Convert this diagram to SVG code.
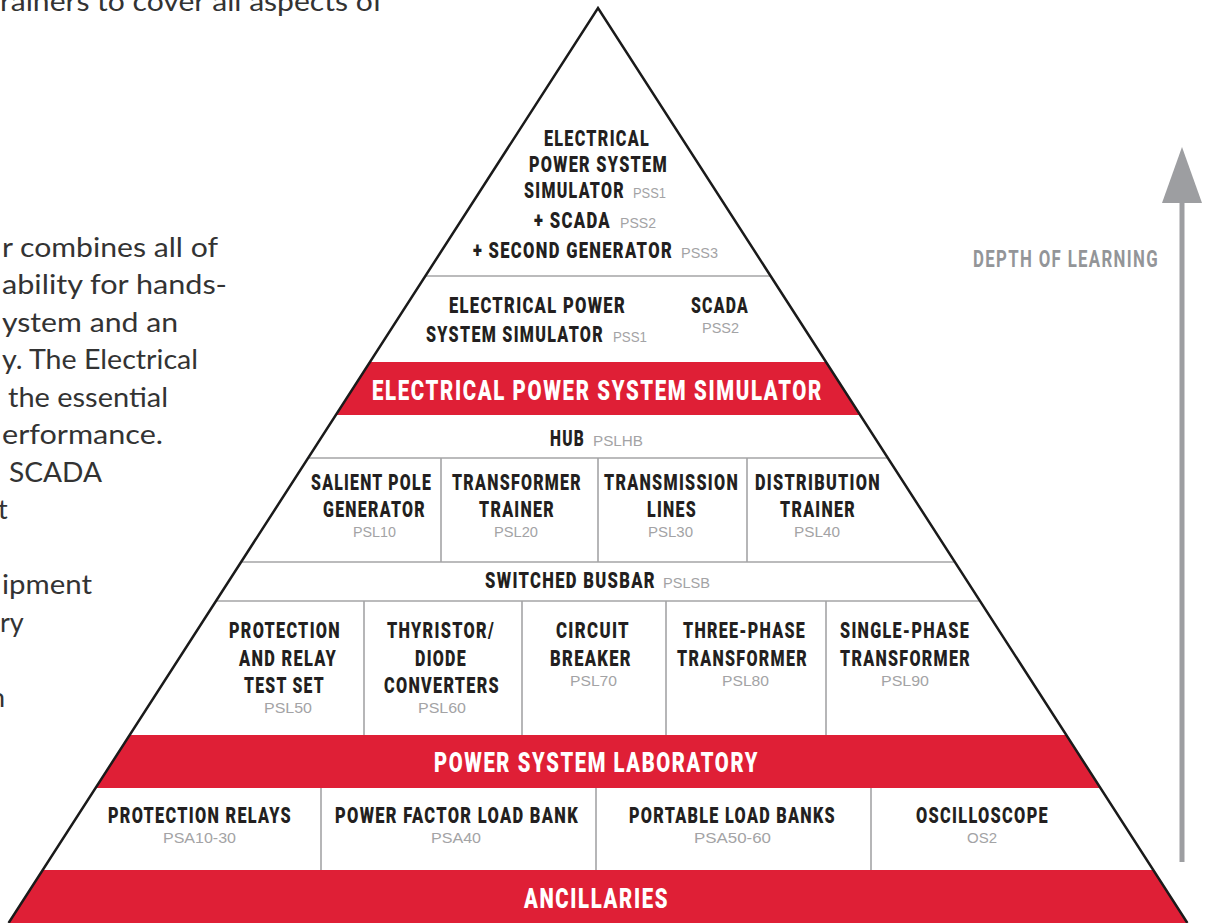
<svg xmlns="http://www.w3.org/2000/svg" width="1211" height="923" viewBox="0 0 1211 923">
<defs>
<style>
.t{font-family:Roboto,"Liberation Sans",Arial,sans-serif;font-weight:900;font-size:22px;fill:#231f20;letter-spacing:0.08em}
.w{font-family:Roboto,"Liberation Sans",Arial,sans-serif;font-weight:900;font-size:27px;fill:#ffffff;letter-spacing:0.08em}
.c{font-family:"Liberation Sans",Arial,sans-serif;font-size:15px;fill:#a3a3a5}
.b{font-family:Lato,"Open Sans",sans-serif;font-weight:400;font-size:27px;fill:#333333}
.g{stroke:#a4a4a6;stroke-width:1.6;fill:none}
.band{fill:#df1f36}
.d{font-family:Roboto,"Liberation Sans",Arial,sans-serif;font-weight:700;font-size:24px;fill:#939598;letter-spacing:0.08em}
</style>
<clipPath id="tri"><polygon points="598,8 8.6,923 1187.4,923"/></clipPath>
</defs>
<rect width="1211" height="923" fill="#ffffff"/>

<g id="body-text">
<text class="b" x="0" y="11" textLength="383" lengthAdjust="spacingAndGlyphs">rainers to cover all aspects of</text>
<text class="b" x="2" y="257" textLength="216" lengthAdjust="spacingAndGlyphs">r combines all of</text>
<text class="b" x="2" y="294" textLength="225" lengthAdjust="spacingAndGlyphs">ability for hands-</text>
<text class="b" x="2" y="332" textLength="176" lengthAdjust="spacingAndGlyphs">ystem and an</text>
<text class="b" x="2" y="369" textLength="196" lengthAdjust="spacingAndGlyphs">y. The Electrical</text>
<text class="b" x="8" y="407" textLength="160" lengthAdjust="spacingAndGlyphs">the essential</text>
<text class="b" x="2" y="444" textLength="161" lengthAdjust="spacingAndGlyphs">erformance.</text>
<text class="b" x="9" y="482" textLength="93" lengthAdjust="spacingAndGlyphs">SCADA</text>
<text class="b" x="-2" y="519">t</text>
<text class="b" x="2" y="594" textLength="90" lengthAdjust="spacingAndGlyphs">ipment</text>
<text class="b" x="0" y="632">ry</text>
<text class="b" x="-10" y="707">n</text>
</g>

<g id="pyramid-fill" clip-path="url(#tri)">
<rect class="band" x="0" y="362" width="1211" height="53"/>
<rect class="band" x="0" y="735" width="1211" height="53"/>
<rect class="band" x="0" y="870" width="1211" height="53"/>
<line class="g" x1="0" y1="276" x2="1211" y2="276"/>
<line class="g" x1="0" y1="458" x2="1211" y2="458"/>
<line class="g" x1="0" y1="562" x2="1211" y2="562"/>
<line class="g" x1="0" y1="601" x2="1211" y2="601"/>
<line class="g" x1="441" y1="458" x2="441" y2="562"/>
<line class="g" x1="598" y1="458" x2="598" y2="562"/>
<line class="g" x1="747" y1="458" x2="747" y2="562"/>
<line class="g" x1="364" y1="601" x2="364" y2="735"/>
<line class="g" x1="522" y1="601" x2="522" y2="735"/>
<line class="g" x1="666" y1="601" x2="666" y2="735"/>
<line class="g" x1="826" y1="601" x2="826" y2="735"/>
<line class="g" x1="321" y1="788" x2="321" y2="870"/>
<line class="g" x1="596" y1="788" x2="596" y2="870"/>
<line class="g" x1="871" y1="788" x2="871" y2="870"/>
</g>
<g id="pyramid-outline">
<polyline points="8.6,923 598,8 1187.4,923" fill="none" stroke="#1a1a1a" stroke-width="2.5" stroke-linejoin="miter"/>
</g>

<g id="node-pss-full">
<text class="t" x="544" y="146" textLength="106" lengthAdjust="spacingAndGlyphs">ELECTRICAL</text>
<text class="t" x="529" y="172" textLength="139" lengthAdjust="spacingAndGlyphs">POWER SYSTEM</text>
<text class="t" x="524" y="198" textLength="101" lengthAdjust="spacingAndGlyphs">SIMULATOR</text>
<text class="c" x="633" y="198" textLength="33" lengthAdjust="spacingAndGlyphs">PSS1</text>
<text class="t" x="534" y="228" textLength="77" lengthAdjust="spacingAndGlyphs">+ SCADA</text>
<text class="c" x="620" y="228" textLength="36" lengthAdjust="spacingAndGlyphs">PSS2</text>
<text class="t" x="473" y="258" textLength="200" lengthAdjust="spacingAndGlyphs">+ SECOND GENERATOR</text>
<text class="c" x="681" y="258" textLength="37" lengthAdjust="spacingAndGlyphs">PSS3</text>
</g>

<g id="node-pss1">
<text class="t" x="449" y="313" textLength="177" lengthAdjust="spacingAndGlyphs">ELECTRICAL POWER</text>
<text class="t" x="426" y="342" textLength="178" lengthAdjust="spacingAndGlyphs">SYSTEM SIMULATOR</text>
<text class="c" x="613" y="342" textLength="34" lengthAdjust="spacingAndGlyphs">PSS1</text>
</g>
<g id="node-scada">
<text class="t" x="691" y="313" textLength="58" lengthAdjust="spacingAndGlyphs">SCADA</text>
<text class="c" x="702" y="333" textLength="37" lengthAdjust="spacingAndGlyphs">PSS2</text>
</g>

<g id="band-epss">
<text class="w" x="372" y="400" textLength="451" lengthAdjust="spacingAndGlyphs">ELECTRICAL POWER SYSTEM SIMULATOR</text>
</g>

<g id="node-hub">
<text class="t" x="550" y="446" textLength="35" lengthAdjust="spacingAndGlyphs">HUB</text>
<text class="c" x="593" y="446" textLength="50" lengthAdjust="spacingAndGlyphs">PSLHB</text>
</g>

<g id="node-psl10">
<text class="t" x="311" y="490" textLength="121" lengthAdjust="spacingAndGlyphs">SALIENT POLE</text>
<text class="t" x="323" y="517" textLength="103" lengthAdjust="spacingAndGlyphs">GENERATOR</text>
<text class="c" x="353" y="537" textLength="43" lengthAdjust="spacingAndGlyphs">PSL10</text>
</g>
<g id="node-psl20">
<text class="t" x="452" y="490" textLength="130" lengthAdjust="spacingAndGlyphs">TRANSFORMER</text>
<text class="t" x="479" y="517" textLength="76" lengthAdjust="spacingAndGlyphs">TRAINER</text>
<text class="c" x="494" y="537" textLength="44" lengthAdjust="spacingAndGlyphs">PSL20</text>
</g>
<g id="node-psl30">
<text class="t" x="604" y="490" textLength="135" lengthAdjust="spacingAndGlyphs">TRANSMISSION</text>
<text class="t" x="647" y="517" textLength="50" lengthAdjust="spacingAndGlyphs">LINES</text>
<text class="c" x="648" y="537" textLength="45" lengthAdjust="spacingAndGlyphs">PSL30</text>
</g>
<g id="node-psl40">
<text class="t" x="755" y="490" textLength="126" lengthAdjust="spacingAndGlyphs">DISTRIBUTION</text>
<text class="t" x="780" y="517" textLength="76" lengthAdjust="spacingAndGlyphs">TRAINER</text>
<text class="c" x="794" y="537" textLength="46" lengthAdjust="spacingAndGlyphs">PSL40</text>
</g>

<g id="node-pslsb">
<text class="t" x="485" y="588" textLength="171" lengthAdjust="spacingAndGlyphs">SWITCHED BUSBAR</text>
<text class="c" x="663" y="588" textLength="47" lengthAdjust="spacingAndGlyphs">PSLSB</text>
</g>

<g id="node-psl50">
<text class="t" x="229" y="638" textLength="112" lengthAdjust="spacingAndGlyphs">PROTECTION</text>
<text class="t" x="239" y="666" textLength="98" lengthAdjust="spacingAndGlyphs">AND RELAY</text>
<text class="t" x="244" y="693" textLength="81" lengthAdjust="spacingAndGlyphs">TEST SET</text>
<text class="c" x="264" y="713" textLength="48" lengthAdjust="spacingAndGlyphs">PSL50</text>
</g>
<g id="node-psl60">
<text class="t" x="387" y="638" textLength="108" lengthAdjust="spacingAndGlyphs">THYRISTOR/</text>
<text class="t" x="415" y="666" textLength="52" lengthAdjust="spacingAndGlyphs">DIODE</text>
<text class="t" x="384" y="693" textLength="116" lengthAdjust="spacingAndGlyphs">CONVERTERS</text>
<text class="c" x="418" y="713" textLength="48" lengthAdjust="spacingAndGlyphs">PSL60</text>
</g>
<g id="node-psl70">
<text class="t" x="556" y="638" textLength="74" lengthAdjust="spacingAndGlyphs">CIRCUIT</text>
<text class="t" x="550" y="666" textLength="82" lengthAdjust="spacingAndGlyphs">BREAKER</text>
<text class="c" x="570" y="686" textLength="47" lengthAdjust="spacingAndGlyphs">PSL70</text>
</g>
<g id="node-psl80">
<text class="t" x="683" y="638" textLength="123" lengthAdjust="spacingAndGlyphs">THREE-PHASE</text>
<text class="t" x="677" y="666" textLength="131" lengthAdjust="spacingAndGlyphs">TRANSFORMER</text>
<text class="c" x="722" y="686" textLength="47" lengthAdjust="spacingAndGlyphs">PSL80</text>
</g>
<g id="node-psl90">
<text class="t" x="840" y="638" textLength="130" lengthAdjust="spacingAndGlyphs">SINGLE-PHASE</text>
<text class="t" x="840" y="666" textLength="131" lengthAdjust="spacingAndGlyphs">TRANSFORMER</text>
<text class="c" x="881" y="686" textLength="48" lengthAdjust="spacingAndGlyphs">PSL90</text>
</g>

<g id="band-psl">
<text class="w" x="434" y="772" textLength="325" lengthAdjust="spacingAndGlyphs">POWER SYSTEM LABORATORY</text>
</g>

<g id="node-psa10-30">
<text class="t" x="108" y="823" textLength="184" lengthAdjust="spacingAndGlyphs">PROTECTION RELAYS</text>
<text class="c" x="163" y="843" textLength="73" lengthAdjust="spacingAndGlyphs">PSA10-30</text>
</g>
<g id="node-psa40">
<text class="t" x="335" y="823" textLength="244" lengthAdjust="spacingAndGlyphs">POWER FACTOR LOAD BANK</text>
<text class="c" x="431" y="843" textLength="50" lengthAdjust="spacingAndGlyphs">PSA40</text>
</g>
<g id="node-psa50-60">
<text class="t" x="629" y="823" textLength="207" lengthAdjust="spacingAndGlyphs">PORTABLE LOAD BANKS</text>
<text class="c" x="694" y="843" textLength="77" lengthAdjust="spacingAndGlyphs">PSA50-60</text>
</g>
<g id="node-os2">
<text class="t" x="916" y="823" textLength="133" lengthAdjust="spacingAndGlyphs">OSCILLOSCOPE</text>
<text class="c" x="967" y="843" textLength="30" lengthAdjust="spacingAndGlyphs">OS2</text>
</g>

<g id="band-ancillaries">
<text class="w" x="524" y="908" textLength="145" lengthAdjust="spacingAndGlyphs">ANCILLARIES</text>
</g>

<g id="depth-label">
<text class="d" x="973" y="267" textLength="186" lengthAdjust="spacingAndGlyphs">DEPTH OF LEARNING</text>
</g>
<g id="connectors">
<rect x="1179.5" y="198" width="5" height="664" fill="#9d9ea1"/>
<polygon points="1182,147 1162,203 1202,203" fill="#9d9ea1"/>
</g>
</svg>
